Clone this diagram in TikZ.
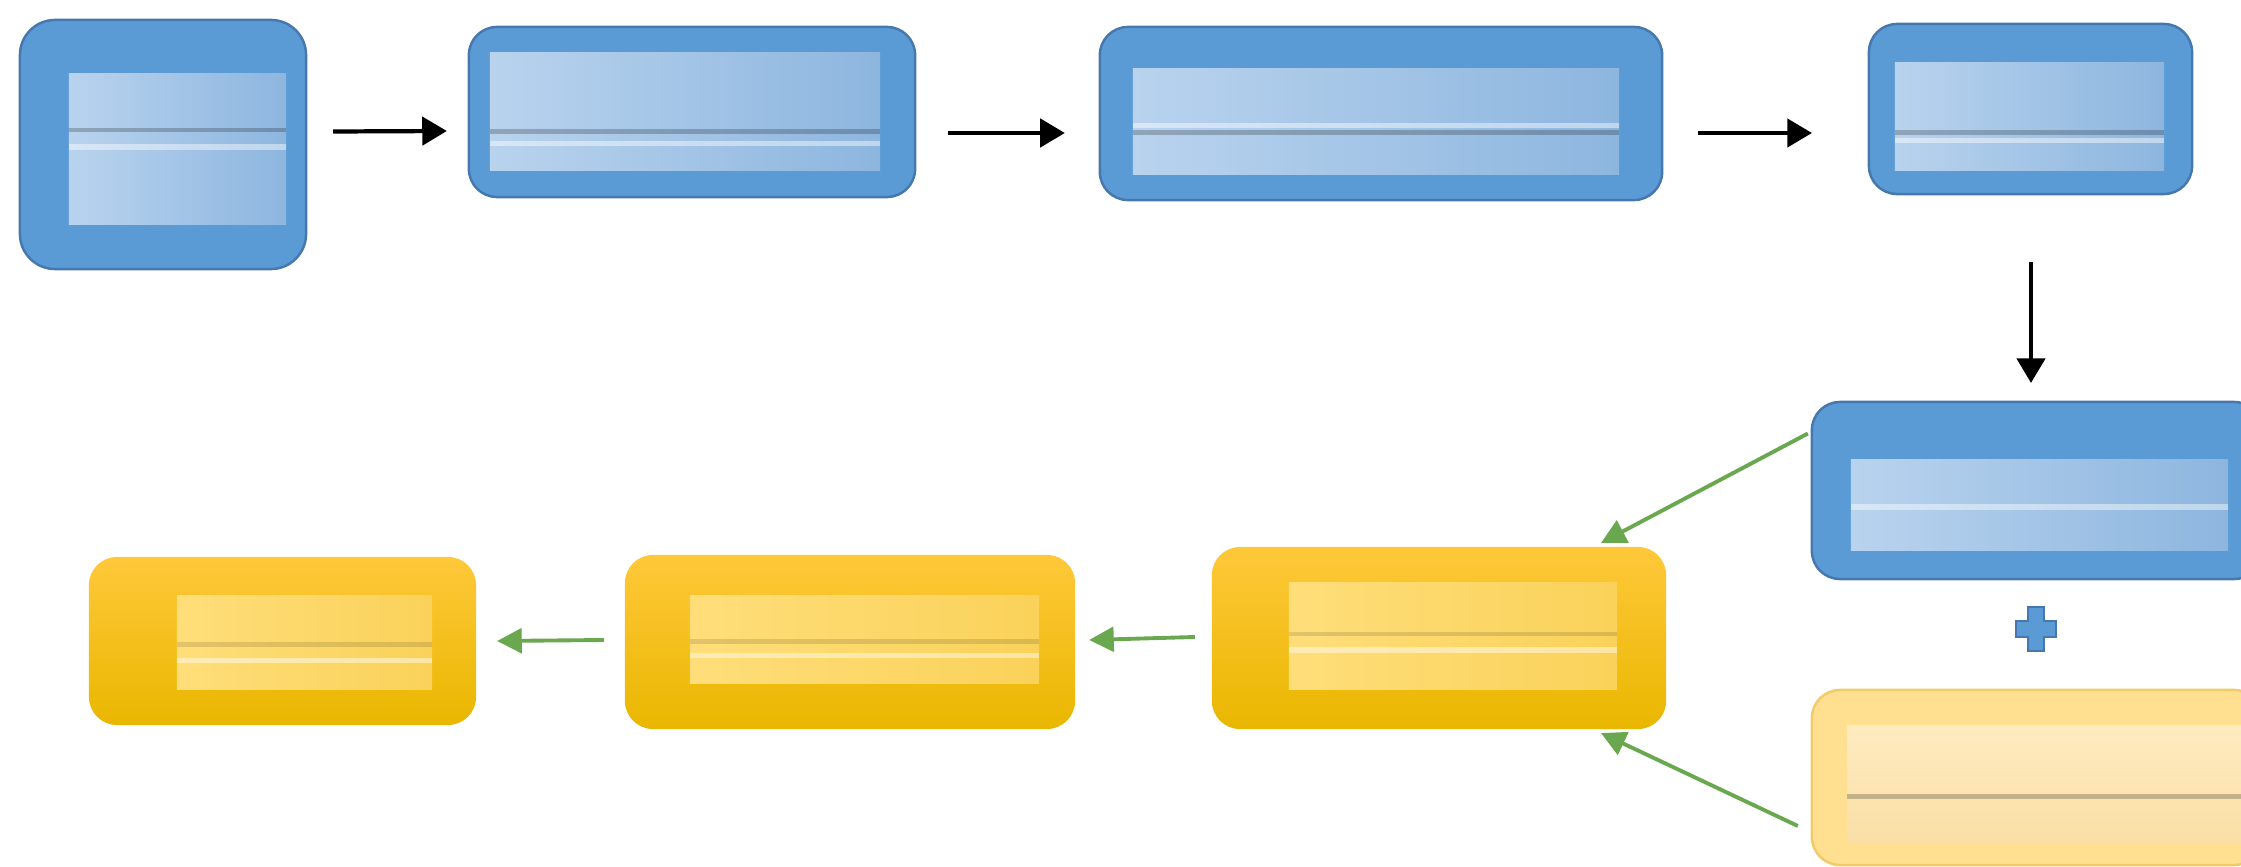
\documentclass[tikz,border=0pt]{standalone}
\usetikzlibrary{arrows.meta,calc}
\definecolor{bluefill}{HTML}{5B9BD5}
\definecolor{blueedge}{HTML}{4677AE}
\definecolor{bluein1}{HTML}{B9D3EE}
\definecolor{bluein2}{HTML}{8DB6DF}
\definecolor{yeltop}{HTML}{FFC83A}
\definecolor{yelbot}{HTML}{E9B700}
\definecolor{yelin1}{HTML}{FFDE7A}
\definecolor{yelin2}{HTML}{FAD25A}
\definecolor{ltfill}{HTML}{FFDF90}
\definecolor{ltedge}{HTML}{F2CB66}
\definecolor{ltin1}{HTML}{FFEBC0}
\definecolor{ltin2}{HTML}{F9DFA6}
\definecolor{grn}{HTML}{6AA84F}
\begin{document}
\begin{tikzpicture}[x=0.01cm,y=-0.01cm,
  box/.style={inner sep=0pt, outer sep=0pt, rounded corners=8pt},
  bluebox/.style={box, draw=blueedge, line width=0.7pt, fill=bluefill},
  yelbox/.style={box, draw=none, top color=yeltop, bottom color=yelbot},
  ltbox/.style={box, draw=ltedge, line width=0.7pt, fill=ltfill},
  inner/.style={inner sep=0pt, outer sep=0pt, draw=none},
  bluein/.style={inner, left color=bluein1, right color=bluein2},
  yelin/.style={inner, left color=yelin1, right color=yelin2},
  ltin/.style={inner, top color=ltin1, bottom color=ltin2},
  darkline/.style={line width=1.2pt, draw=black, draw opacity=0.22},
  liteline/.style={line width=1.5pt, draw=white, draw opacity=0.45},
  blackarrow/.style={line width=1.2pt, draw=black, -{Triangle[length=7pt, width=8pt]}},
  greenarrow/.style={line width=1.1pt, draw=grn, -{Triangle[length=7pt, width=7pt]}},
]
\useasboundingbox (0,0) rectangle (2241,867);
\clip (0,0) rectangle (2241,867);

% top row (blue)
\node[bluebox, rounded corners=10pt, minimum width=2.86cm, minimum height=2.49cm] (b1) at (163,144.5) {};
\node[bluein, minimum width=2.17cm, minimum height=1.50cm] (t1) at (177.5,149) {};
\node[bluebox, minimum width=4.46cm, minimum height=1.70cm] (b2) at (692,112) {};
\node[bluein, minimum width=3.90cm, minimum height=1.17cm] (t2) at (685,111.5) {};
\node[bluebox, minimum width=5.62cm, minimum height=1.73cm] (b3) at (1381,113.5) {};
\node[bluein, minimum width=4.86cm, minimum height=1.05cm] (t3) at (1376,121.5) {};
\node[bluebox, minimum width=3.23cm, minimum height=1.70cm] (b4) at (2030.5,109) {};
\node[bluein, minimum width=2.69cm, minimum height=1.07cm] (t4) at (2029.5,116.5) {};

% right column
\node[bluebox, minimum width=4.50cm, minimum height=1.77cm] (b5) at (2037,490.5) {};
\node[bluein, minimum width=3.77cm, minimum height=0.90cm] (t5) at (2039.5,505) {};
\node[ltbox, minimum width=4.50cm, minimum height=1.75cm] (b6) at (2037,777.5) {};
\node[ltin, minimum width=4.03cm, minimum height=1.17cm] (t6) at (2048.5,784.5) {};

% bottom row (yellow)
\node[yelbox, minimum width=4.54cm, minimum height=1.82cm] (b7) at (1439,638) {};
\node[yelin, minimum width=3.28cm, minimum height=1.06cm] (t7) at (1453,636) {};
\node[yelbox, minimum width=4.50cm, minimum height=1.74cm] (b8) at (850,642) {};
\node[yelin, minimum width=3.49cm, minimum height=0.87cm] (t8) at (864.5,639.5) {};
\node[yelbox, minimum width=3.87cm, minimum height=1.68cm] (b9) at (282.5,641) {};
\node[yelin, minimum width=2.55cm, minimum height=0.93cm] (t9) at (304.5,642.5) {};

% faint residual lines inside the blurred text areas
\draw[darkline] ($(t1.west)+(0,-19)$) -- ($(t1.east)+(0,-19)$);
\draw[liteline] ($(t1.west)+(0,-2)$) -- ($(t1.east)+(0,-2)$);
\draw[darkline] ($(t2.west)+(0,20)$) -- ($(t2.east)+(0,20)$);
\draw[liteline] ($(t2.west)+(0,32)$) -- ($(t2.east)+(0,32)$);
\draw[darkline] ($(t3.west)+(0,11)$) -- ($(t3.east)+(0,11)$);
\draw[liteline] ($(t3.west)+(0,4)$) -- ($(t3.east)+(0,4)$);
\draw[darkline] ($(t4.west)+(0,16)$) -- ($(t4.east)+(0,16)$);
\draw[liteline] ($(t4.west)+(0,24)$) -- ($(t4.east)+(0,24)$);
\draw[liteline] ($(t5.west)+(0,2)$) -- ($(t5.east)+(0,2)$);
\draw[darkline] ($(t6.west)+(0,12)$) -- ($(t6.east)+(0,12)$);
\draw[liteline] ($(t7.west)+(0,14)$) -- ($(t7.east)+(0,14)$);
\draw[darkline, draw opacity=0.12] ($(t7.west)+(0,-2)$) -- ($(t7.east)+(0,-2)$);
\draw[darkline, draw opacity=0.12] ($(t8.west)+(0,2)$) -- ($(t8.east)+(0,2)$);
\draw[liteline] ($(t8.west)+(0,16)$) -- ($(t8.east)+(0,16)$);
\draw[darkline, draw opacity=0.12] ($(t9.west)+(0,2)$) -- ($(t9.east)+(0,2)$);
\draw[liteline] ($(t9.west)+(0,18)$) -- ($(t9.east)+(0,18)$);

% plus sign
\coordinate (plus) at (2036,629);
\filldraw[fill=bluefill, draw=blueedge, line width=0.6pt, shift={(plus)}]
  (-8,-22) -- (8,-22) -- (8,-8) -- (20,-8) -- (20,8) -- (8,8) -- (8,22)
  -- (-8,22) -- (-8,8) -- (-20,8) -- (-20,-8) -- (-8,-8) -- cycle;

% black arrows
\draw[blackarrow] ($(b1.east)+(27,-13)$) -- ($(b2.west)+(-22,19)$);
\draw[blackarrow] ($(b2.east)+(33,21)$) -- ($(b3.west)+(-35,19.5)$);
\draw[blackarrow] ($(b3.east)+(36,19.5)$) -- ($(b4.west)+(-57,24)$);
\draw[blackarrow] ($(b4.south)+(0.5,68)$) -- ($(b5.north)+(-6,-19)$);

% green arrows
\draw[greenarrow] ($(b5.west)+(-4,-57)$) -- ($(b7.north)+(162,-4)$);
\draw[greenarrow] ($(b6.west)+(-14,48.5)$) -- ($(b7.south)+(162,4)$);
\draw[greenarrow] ($(b7.west)+(-17,-1)$) -- ($(b8.east)+(14,-2)$);
\draw[greenarrow] ($(b8.west)+(-21,-2)$) -- ($(b9.east)+(21,0)$);
\end{tikzpicture}
\end{document}
